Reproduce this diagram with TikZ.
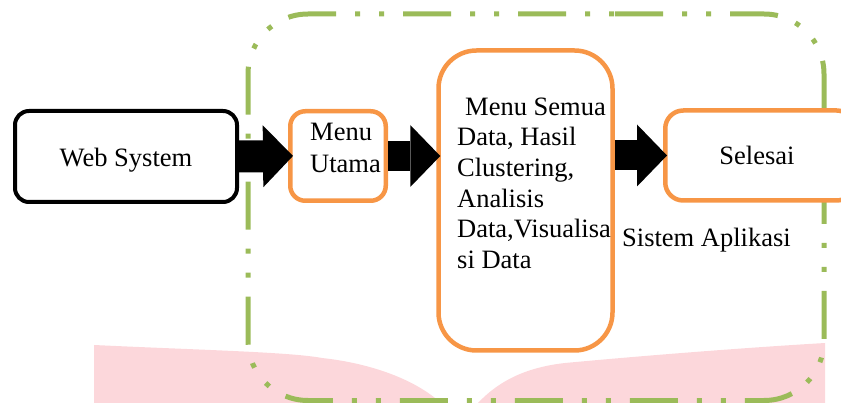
\documentclass[tikz,border=0pt]{standalone}
\usepackage{fontspec}
\setmainfont{Liberation Serif}
\usetikzlibrary{arrows.meta}
\definecolor{boxorange}{HTML}{F79646}
\definecolor{framegreen}{HTML}{9BBB59}
\definecolor{markpink}{RGB}{252,215,219}
\begin{document}
\begin{tikzpicture}[x=1pt,y=-1pt,
  every node/.style={font=\fontsize{26.5}{30.6}\selectfont},
  blackbox/.style={draw=black, fill=white, line width=4pt, rounded corners=14pt, inner sep=0pt},
  orangebox/.style={draw=boxorange, fill=white, line width=4.5pt, inner sep=0pt},
  txt/.style={inner sep=0pt, align=left},
  blockarrow/.style={black, line width=#1, -{Triangle[length=30pt 0, width=62pt 0, line width=0pt]}},
  frameline/.style={draw=framegreen, line width=5pt, rounded corners=60pt,
    dash pattern=on 48pt off 19pt on 5pt off 19pt on 5pt off 19pt},
]
\useasboundingbox (0,0) rectangle (841,403);

% faint watermark
\fill[markpink] (94,345) .. controls (200,350) and (290,352) .. (322,358)
  .. controls (360,362) and (410,375) .. (441,403) -- (478,403)
  .. controls (495,385) and (520,368) .. (565,363)
  .. controls (640,356) and (740,348) .. (825,343) -- (825,403) -- (94,403) -- cycle;

% application frame
\draw[frameline] (555,14) -| (824,400.5) -| (248,14) -- cycle;

% boxes
\node[blackbox, minimum width=222pt, minimum height=91pt] (web) at (126,156.5) {};
\node[orangebox, rounded corners=15pt, minimum width=95.5pt, minimum height=89.5pt] (menu) at (338,156) {};
\node[orangebox, rounded corners=38pt, minimum width=174pt, minimum height=300pt] (semua) at (525.5,200.5) {};
\node[orangebox, rounded corners=18pt, minimum width=189.5pt, minimum height=90pt] (selesai) at (760,155.5) {};

% texts
\node[txt, anchor=base] (webtxt) at (126,167) {Web System};
\node[txt, anchor=north west, font=\fontsize{26.5}{32}\selectfont] (menutxt) at (310,117.6) {\strut Menu\\Utama};
\node[txt, anchor=north west] (semuatxt) at (457,93.6) {\strut\hspace*{8pt}Menu Semua\\Data, Hasil\\Clustering,\\Analisis\\Data,Visualisa\\si Data};
\node[txt, anchor=base] (selesaitxt) at (757,165) {Selesai};
\node[txt, anchor=base west] (systxt) at (622,247) {Sistem Aplikasi};

% block arrows
\draw[blockarrow=32pt, shorten >=-5pt] (web.east) -- (menu.west);
\draw[blockarrow=30pt, shorten >=-4pt] (menu.east) -- (semua.west |- menu.east);
\draw[blockarrow=30pt, shorten >=-4pt] (semua.east |- selesai.west) -- (selesai.west);
\end{tikzpicture}
\end{document}
